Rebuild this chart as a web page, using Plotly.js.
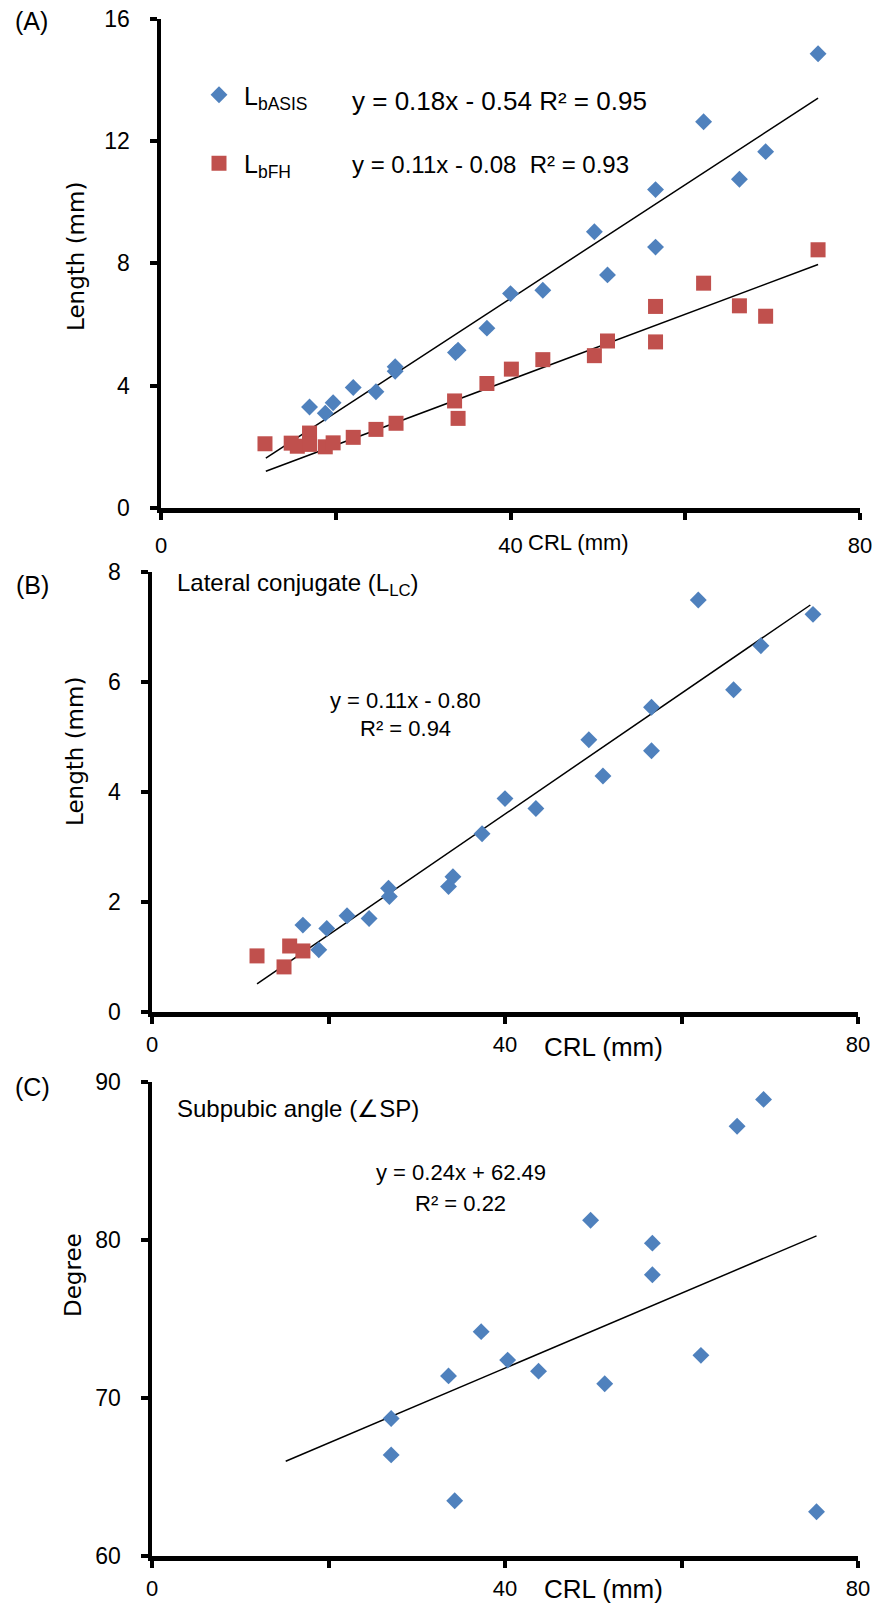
<!DOCTYPE html>
<html>
<head>
<meta charset="utf-8">
<script src="https://cdn.plot.ly/plotly-3.0.1.min.js"></script>
<style>html,body{margin:0;padding:0;background:#fff;}#chart{width:882px;height:1604px;}</style>
</head>
<body>
<div id="chart"></div>
<script>
// ---------- DATA ----------
// Panel A: LbASIS (blue diamonds)
const crlA_b = [17.0, 18.8, 19.7, 22.0, 24.6, 26.8, 26.8, 33.7, 34.0, 37.3, 40.0, 43.7, 49.6, 51.1, 56.6, 56.6, 62.1, 66.2, 69.2, 75.2];
const lbASIS = [3.30, 3.10, 3.44, 3.94, 3.80, 4.62, 4.47, 5.08, 5.16, 5.88, 7.01, 7.12, 9.03, 7.62, 10.41, 8.53, 12.63, 10.75, 11.65, 14.85];
// Panel A: LbFH (red squares)
const crlA_r = [11.9, 14.9, 15.6, 17.0, 17.0, 18.8, 19.7, 22.0, 24.6, 26.9, 33.6, 34.0, 37.3, 40.1, 43.7, 49.6, 51.1, 56.6, 56.6, 62.1, 66.2, 69.2, 75.2];
const lbFH   = [2.10, 2.12, 2.02, 2.45, 2.08, 2.00, 2.13, 2.31, 2.57, 2.77, 3.50, 2.93, 4.07, 4.54, 4.85, 4.98, 5.46, 6.59, 5.43, 7.35, 6.61, 6.27, 8.44];
// Panel A trend lines (end points)
const trendA_bX = [12.0, 75.2], trendA_bY = [1.63, 13.4];
const trendA_rX = [12.0, 75.2], trendA_rY = [1.20, 7.96];

// Panel B: lateral conjugate
const crlB_b = [17.1, 18.9, 19.8, 22.1, 24.6, 26.8, 26.9, 33.6, 34.1, 37.4, 40.0, 43.5, 49.5, 51.1, 56.6, 56.6, 61.9, 65.9, 69.0, 74.9];
const lLC_b  = [1.58, 1.13, 1.52, 1.75, 1.70, 2.25, 2.10, 2.28, 2.46, 3.24, 3.88, 3.70, 4.95, 4.29, 5.54, 4.75, 7.49, 5.86, 6.66, 7.23];
const crlB_r = [11.9, 14.96, 15.6, 17.1];
const lLC_r  = [1.02, 0.82, 1.20, 1.11];
const trendBX = [11.9, 74.6], trendBY = [0.51, 7.40];

// Panel C: subpubic angle
const crlC = [27.1, 27.1, 33.6, 34.3, 37.3, 40.3, 43.8, 49.7, 51.3, 56.7, 56.7, 62.2, 66.3, 69.3, 75.3];
const angSP = [68.7, 66.4, 71.4, 63.5, 74.2, 72.4, 71.7, 81.25, 70.9, 79.8, 77.8, 72.7, 87.2, 88.9, 62.8];
const trendCX = [15.15, 75.3], trendCY = [66.0, 80.26];

// Tick labels
const xTickVals = [0, 20, 40, 60, 80];
const xTickText = ['0', '', '40', '', '80'];

// ---------- STYLE ----------
const W = 882, H = 1604;
const BLUE = '#4F81BD', RED = '#C0504D';
const TF = 'Liberation Sans, Arial, sans-serif';
const YF = 'DejaVu Sans, Verdana, sans-serif';
const px = v => v / W;
const py = v => 1 - v / H;

function diam(x, y, xa, ya, name, show) {
  return {x: x, y: y, xaxis: xa, yaxis: ya, type: 'scatter', mode: 'markers', name: name, showlegend: !!show,
    legendgroup: name, marker: {symbol: 'diamond', size: 13, color: BLUE, line: {width: 0}}};
}
function sq(x, y, xa, ya, name, show) {
  return {x: x, y: y, xaxis: xa, yaxis: ya, type: 'scatter', mode: 'markers', name: name, showlegend: !!show,
    legendgroup: name, marker: {symbol: 'square', size: 15, color: RED, line: {width: 0}}};
}
function line(x, y, xa, ya) {
  return {x: x, y: y, xaxis: xa, yaxis: ya, type: 'scatter', mode: 'lines', showlegend: false,
    line: {color: '#000', width: 1.5}, hoverinfo: 'skip'};
}

const traces = [
  line(trendA_bX, trendA_bY, 'x', 'y'),
  line(trendA_rX, trendA_rY, 'x', 'y'),
  diam(crlA_b, lbASIS, 'x', 'y', 'L<sub>bASIS</sub>', true),
  sq(crlA_r, lbFH, 'x', 'y', 'L<sub>bFH</sub>', true),
  line(trendBX, trendBY, 'x2', 'y2'),
  diam(crlB_b, lLC_b, 'x2', 'y2', 'b'),
  sq(crlB_r, lLC_r, 'x2', 'y2', 'r'),
  line(trendCX, trendCY, 'x3', 'y3'),
  diam(crlC, angSP, 'x3', 'y3', 'c')
];

function xax(dom, anchor, standoff) {
  return {domain: dom, anchor: anchor, range: [0, 80], tickvals: xTickVals, ticktext: xTickText,
    ticks: 'outside', ticklen: 7, tickwidth: 4, tickcolor: '#000', showline: true, linewidth: 4.5,
    linecolor: '#000', showgrid: false, zeroline: false, ticklabelstandoff: standoff,
    tickfont: {family: TF, size: 22, color: '#000'}, fixedrange: true};
}
function yax(dom, anchor, range, dtick) {
  return {domain: dom, anchor: anchor, range: range, dtick: dtick, tick0: range[0],
    ticks: 'outside', ticklen: 7, tickwidth: 4, tickcolor: '#000', showline: true, linewidth: 4.5,
    linecolor: '#000', showgrid: false, zeroline: false, ticklabelstandoff: 15,
    tickfont: {family: TF, size: 23, color: '#000'}, fixedrange: true};
}

function ann(text, x, y, size, opts) {
  return Object.assign({text: text, x: px(x), y: py(y), xref: 'paper', yref: 'paper', showarrow: false,
    xanchor: 'center', yanchor: 'middle', font: {family: TF, size: size, color: '#000'}}, opts || {});
}
const yt = {textangle: -90, font: {family: YF, size: 23, color: '#000'}};

const layout = {
  width: W, height: H, margin: {l: 0, r: 0, t: 0, b: 0},
  paper_bgcolor: '#fff', plot_bgcolor: '#fff',
  xaxis: xax([px(161), px(860)], 'y', 7),
  yaxis: yax([py(508), py(18.6)], 'x', [0, 16], 4),
  xaxis2: xax([px(152), px(858)], 'y2', 2),
  yaxis2: yax([py(1012), py(572)], 'x2', [0, 8], 2),
  xaxis3: xax([px(152), px(858)], 'y3', 2),
  yaxis3: yax([py(1556), py(1082)], 'x3', [60, 90], 10),
  showlegend: true,
  legend: {x: px(194), y: py(72), xanchor: 'left', yanchor: 'top', bgcolor: 'rgba(0,0,0,0)',
    font: {family: TF, size: 25, color: '#000'}, traceorder: 'grouped', tracegroupgap: 33,
    itemsizing: 'trace', itemwidth: 40},
  annotations: [
    ann('(A)', 31, 21, 25),
    ann('(B)', 32, 585, 25),
    ann('(C)', 32, 1087, 25),
    ann('Length (mm)', 76, 257, 23, yt),
    ann('Length (mm)', 75, 752, 23, yt),
    ann('Degree', 73, 1275, 23, yt),
    ann('CRL (mm)', 578, 542, 22),
    ann('CRL (mm)', 603, 1047, 26),
    ann('CRL (mm)', 603, 1589, 26),
    ann('y = 0.18x - 0.54 R² = 0.95', 350, 101, 26, {xanchor: 'left'}),
    ann('y = 0.11x - 0.08&nbsp; R² = 0.93', 350, 165, 24, {xanchor: 'left'}),
    ann('Lateral conjugate (L<sub>LC</sub>)', 175, 584, 24, {xanchor: 'left'}),
    ann('y = 0.11x - 0.80', 405, 700, 22),
    ann('R² = 0.94', 405, 729, 22),
    ann('Subpubic angle (∠SP)', 175, 1108, 24, {xanchor: 'left'}),
    ann('y = 0.24x + 62.49', 461, 1172, 22),
    ann('R² = 0.22', 461, 1203, 22)
  ]
};

Plotly.newPlot('chart', traces, layout, {displayModeBar: false, staticPlot: true});
</script>
</body>
</html>
